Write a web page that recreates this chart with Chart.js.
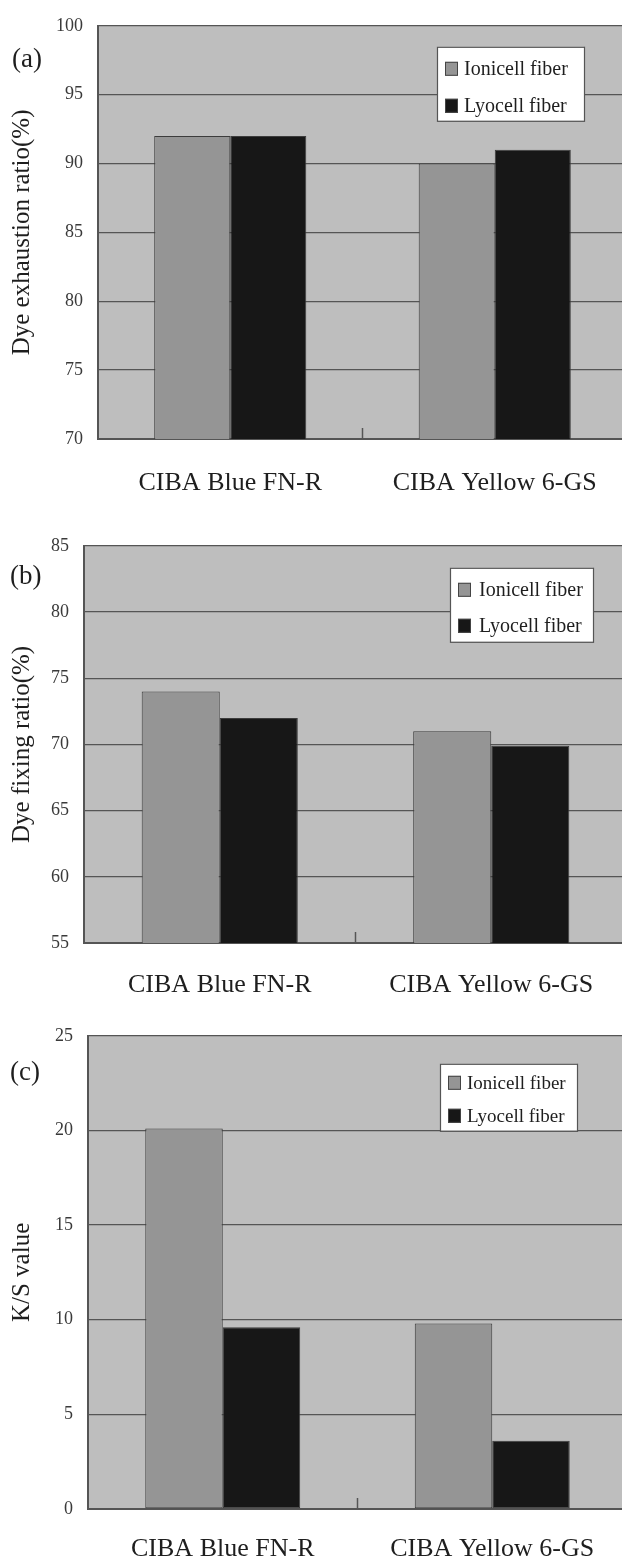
<!DOCTYPE html>
<html>
<head>
<meta charset="utf-8">
<script src="https://cdn.jsdelivr.net/npm/chart.js@4"></script>
<style>
  html, body { margin: 0; padding: 0; background: #fff; overflow: hidden; }
  .panel { position: absolute; left: 0; width: 640px; }
</style>
</head>
<body>
<div class="panel" style="top:0;height:520px"><canvas id="chart-a"></canvas></div>
<div class="panel" style="top:520px;height:490px"><canvas id="chart-b"></canvas></div>
<div class="panel" style="top:1010px;height:550px"><canvas id="chart-c"></canvas></div>
<script>
const categories  = ['CIBA Blue FN-R', 'CIBA Yellow 6-GS'];
const seriesNames = ['Ionicell fiber', 'Lyocell fiber'];

// (a) dye exhaustion ratio (%)
const exhaustIonicell = [92, 90];
const exhaustLyocell  = [92, 91];
// (b) dye fixing ratio (%)
const fixingIonicell  = [74, 71];
const fixingLyocell   = [72, 69.9];
// (c) K/S value
const ksIonicell      = [20.1, 9.8];
const ksLyocell       = [9.6, 3.6];

const yRangeA = [70, 100];
const yRangeB = [55, 85];
const yRangeC = [0, 25];
const yStep   = 5;

const SERIF  = "'Liberation Serif', 'Times New Roman', serif";
const INK    = '#1e1e1e';
const LINE   = '#555';
const colors = ['#959595', '#171717'];

// gray plot background + short tick between the two categories
const plotDecor = {
  id: 'plotDecor',
  beforeDraw(chart) {
    const { ctx, chartArea: a } = chart;
    ctx.save();
    ctx.fillStyle = '#bebebe';
    ctx.fillRect(a.left, a.top, a.right - a.left, a.bottom - a.top);
    ctx.restore();
  },
  afterDatasetsDraw(chart) {
    const { ctx, chartArea: a } = chart;
    const x = chart.scales.x;
    const mid = (x.getPixelForValue(0) + x.getPixelForValue(1)) / 2;
    ctx.save();
    ctx.strokeStyle = LINE;
    ctx.lineWidth = 1.5;
    ctx.beginPath();
    ctx.moveTo(mid, a.bottom);
    ctx.lineTo(mid, a.bottom - 11);
    ctx.stroke();
    ctx.restore();
  }
};

// boxed legend inside the plot, plus the panel letter
const boxLegend = {
  id: 'boxLegend',
  afterDraw(chart, args, o) {
    const { ctx, chartArea: a } = chart;
    ctx.save();
    const bx = o.x, by = a.top + o.dy;
    ctx.fillStyle = '#fff';
    ctx.fillRect(bx, by, o.w, o.h);
    ctx.strokeStyle = LINE;
    ctx.lineWidth = 1.2;
    ctx.strokeRect(bx + 0.5, by + 0.5, o.w, o.h);
    ctx.font = o.size + 'px ' + SERIF;
    ctx.textBaseline = 'middle';
    chart.data.datasets.forEach((ds, i) => {
      const cy = by + o.rows[i];
      ctx.fillStyle = ds.backgroundColor;
      ctx.fillRect(bx + 8, cy - 7, 13, 14);
      ctx.strokeStyle = '#444';
      ctx.lineWidth = 1;
      ctx.strokeRect(bx + 8.5, cy - 6.5, 12, 13);
      ctx.fillStyle = INK;
      ctx.fillText(ds.label, bx + o.tx, cy + 1);
    });
    ctx.font = '27px ' + SERIF;
    ctx.fillStyle = INK;
    ctx.textBaseline = 'alphabetic';
    ctx.fillText(o.panel, o.px, a.top + o.py);
    ctx.restore();
  }
};

function makePanel(id, ionicell, lyocell, range, title, geo, legend) {
  return new Chart(document.getElementById(id), {
    type: 'bar',
    data: {
      labels: categories,
      datasets: [
        { label: seriesNames[0], data: ionicell, backgroundColor: colors[0] },
        { label: seriesNames[1], data: lyocell,  backgroundColor: colors[1] },
      ],
    },
    options: {
      responsive: true,
      maintainAspectRatio: false,
      animation: false,
      events: [],
      layout: { padding: { top: geo.top, right: 13, left: 0, bottom: 0 } },
      datasets: { bar: { categoryPercentage: 0.575, barPercentage: 1, borderWidth: 1, borderColor: '#3c3c3c', borderSkipped: false } },
      plugins: { legend: { display: false }, tooltip: { enabled: false }, boxLegend: legend },
      scales: {
        x: {
          grid: { display: false, drawTicks: false },
          border: { display: true, color: LINE, width: 2 },
          ticks: { font: { family: SERIF, size: 26 }, color: INK, padding: geo.labelPad, maxRotation: 0 },
          afterFit: s => { s.height = geo.xHeight; },
        },
        y: {
          min: range[0], max: range[1],
          grid: { color: LINE, lineWidth: 1.3, drawTicks: false },
          border: { display: true, color: LINE, width: 2 },
          ticks: { stepSize: yStep, font: { family: SERIF, size: 18 }, color: '#3a3a3a', padding: 15 },
          title: { display: true, text: title, font: { family: SERIF, size: 25 }, color: INK, padding: { top: 7, bottom: 0 } },
          afterFit: s => { s.width = geo.left; },
        },
      },
    },
    plugins: [plotDecor, boxLegend],
  });
}

makePanel('chart-a', exhaustIonicell, exhaustLyocell, yRangeA, 'Dye exhaustion ratio(%)',
  { top: 22, left: 98, xHeight: 81, labelPad: 29 },
  { x: 437, dy: 21, w: 147, h: 74, rows: [22, 59], tx: 27, size: 20, panel: '(a)', px: 12, py: 41 });

makePanel('chart-b', fixingIonicell, fixingLyocell, yRangeB, 'Dye fixing ratio(%)',
  { top: 13, left: 84, xHeight: 67, labelPad: 27 },
  { x: 450, dy: 22, w: 143, h: 74, rows: [22, 58], tx: 29, size: 20, panel: '(b)', px: 10, py: 38 });

makePanel('chart-c', ksIonicell, ksLyocell, yRangeC, 'K/S value',
  { top: 19, left: 88, xHeight: 51, labelPad: 25 },
  { x: 440, dy: 28, w: 137, h: 67, rows: [19, 52], tx: 27, size: 19, panel: '(c)', px: 10, py: 44 });
</script>
</body>
</html>
